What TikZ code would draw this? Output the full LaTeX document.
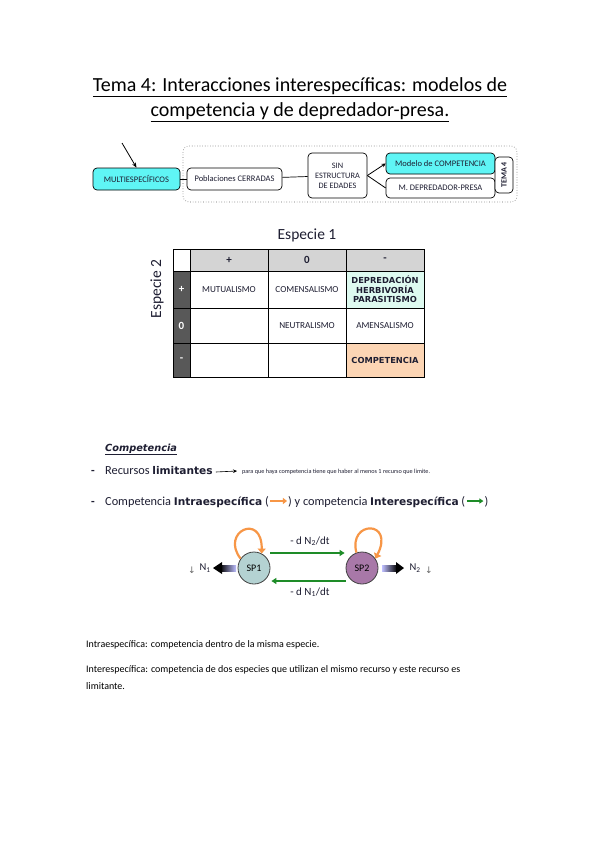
\documentclass[tikz,border=0pt]{standalone}
\usepackage{fontspec}
\setmainfont{Carlito}
\newfontfamily\dvfont{DejaVu Sans}
\usetikzlibrary{arrows.meta,calc}
\definecolor{cyanbox}{RGB}{95,245,245}
\definecolor{hdrgray}{RGB}{212,212,212}
\definecolor{darkcol}{RGB}{88,88,88}
\definecolor{mint}{RGB}{222,250,240}
\definecolor{peach}{RGB}{252,213,180}
\definecolor{spone}{RGB}{180,210,210}
\definecolor{sptwo}{RGB}{168,120,168}
\definecolor{loopor}{RGB}{247,150,70}
\definecolor{grn}{RGB}{30,140,40}
\definecolor{txtdark}{RGB}{30,30,50}
\begin{document}
\begin{tikzpicture}[x=1pt,y=-1pt,
  fbox/.style={draw, rounded corners=4pt, line width=0.7pt, inner sep=1pt, align=center,
    font=\fontsize{8.5}{9.5}\selectfont, text=txtdark},
  cell/.style={draw, line width=0.6pt, inner sep=0pt, align=center, font=\fontsize{9.2}{10}\selectfont, text=txtdark},
  boldcell/.style={cell, font=\dvfont\bfseries\fontsize{8.3}{9.6}\selectfont},
  hdr/.style={cell, fill=hdrgray, font=\bfseries\fontsize{11}{12}\selectfont},
  side/.style={cell, fill=darkcol, text=white, font=\bfseries\fontsize{11}{12}\selectfont},
  txt/.style={inner sep=0pt, anchor=base west, text=txtdark},
  rtxt/.style={txt, font=\fontsize{12.3}{14}\selectfont},
  bodytxt/.style={inner sep=0pt, anchor=base west, font=\fontsize{10}{12}\selectfont},
  grarrow/.style={draw=grn, line width=1.4pt, -{Triangle[length=5pt,width=6pt]}},
  orloop/.style={draw=loopor, line width=2.2pt, -{Triangle[length=5pt,width=8pt]}},
  circ/.style={circle, draw=black!75, line width=0.8pt, minimum size=32pt, inner sep=0pt, font=\fontsize{10}{11}\selectfont}
]
\useasboundingbox (0,0) rectangle (599,848);
\fill[white] (0,0) rectangle (599,848);

% title
\node[align=center, font=\fontsize{20}{25}\selectfont, text=black] (title) at (300,100)
  {\underline{Tema 4: Interacciones interespecíficas: modelos de}\\ \underline{competencia y de depredador-presa.}};

% flowchart
\draw[dotted, line width=0.6pt, draw=black!60, rounded corners=6pt] (183,146) rectangle (517,202);
\node[fbox, fill=cyanbox, minimum width=87pt, minimum height=22pt] (multi) at (136.5,179) {MULTIESPECÍFICOS};
\node[fbox, fill=white, minimum width=95pt, minimum height=22pt] (pob) at (234.5,179) {Poblaciones CERRADAS};
\node[fbox, fill=white, minimum width=59pt, minimum height=45pt, font=\fontsize{8.3}{10}\selectfont] (sin) at (337.5,175.5) {SIN\\ESTRUCTURA\\DE EDADES};
\node[fbox, fill=cyanbox, minimum width=109pt, minimum height=21pt] (comp) at (440.5,163.5) {Modelo de COMPETENCIA};
\node[fbox, fill=white, minimum width=109pt, minimum height=20pt] (dep) at (440.5,188) {M. DEPREDADOR-PRESA};
\node[fbox, fill=white, rotate=90, minimum width=36pt, minimum height=18pt, font=\bfseries\fontsize{8}{9}\selectfont] (tema) at (504,175) {TEMA 4};
\coordinate (ptr) at (122,143);
\draw[line width=0.8pt, -{Stealth[length=5pt,width=4pt]}] (ptr) -- (multi.north);
\draw[line width=0.7pt] (multi) -- (pob);
\draw[line width=0.7pt] (pob) -- (sin);
\draw[line width=0.8pt, -{Stealth[length=4pt,width=4pt]}] (sin.east) -- (comp.west);
\draw[line width=0.8pt] (sin.east) -- (dep.west);

% table
\node[font=\fontsize{15.5}{17}\selectfont, text=txtdark] (esp1) at (307,235) {Especie 1};
\node[rotate=90, font=\fontsize{15.5}{17}\selectfont, text=txtdark] (esp2) at (157,289) {Especie 2};
\node[cell, fill=white, minimum width=17pt, minimum height=22pt] (c00) at (181.5,260) {};
\node[hdr, minimum width=78pt, minimum height=22pt] (c01) at (229,260) {+};
\node[hdr, minimum width=78pt, minimum height=22pt] (c02) at (307,260) {0};
\node[hdr, minimum width=78pt, minimum height=22pt] (c03) at (385,260) {-};
\node[side, minimum width=17pt, minimum height=37pt] (c10) at (181.5,289.5) {+};
\node[cell, minimum width=78pt, minimum height=37pt] (c11) at (229,289.5) {MUTUALISMO};
\node[cell, minimum width=78pt, minimum height=37pt] (c12) at (307,289.5) {COMENSALISMO};
\node[boldcell, fill=mint, minimum width=78pt, minimum height=37pt] (c13) at (385,289.5) {DEPREDACIÓN\\HERBIVORÍA\\PARASITISMO};
\node[side, minimum width=17pt, minimum height=35pt] (c20) at (181.5,325.5) {0};
\node[cell, minimum width=78pt, minimum height=35pt] (c21) at (229,325.5) {};
\node[cell, minimum width=78pt, minimum height=35pt] (c22) at (307,325.5) {NEUTRALISMO};
\node[cell, minimum width=78pt, minimum height=35pt] (c23) at (385,325.5) {AMENSALISMO};
\node[side, minimum width=17pt, minimum height=34pt] (c30) at (181.5,360) {-};
\node[cell, minimum width=78pt, minimum height=34pt] (c31) at (229,360) {};
\node[cell, minimum width=78pt, minimum height=34pt] (c32) at (307,360) {};
\node[boldcell, fill=peach, minimum width=78pt, minimum height=34pt] (c33) at (385,360) {COMPETENCIA};

% Competencia section
\node[txt, font=\dvfont\bfseries\itshape\fontsize{9.8}{11}\selectfont] (head) at (105,451) {\underline{Competencia}};
\node[txt, font=\bfseries\fontsize{12}{12}\selectfont] (b1) at (91,474) {-};
\node[rtxt] (l1a) at (105,474) {Recursos {\dvfont\bfseries\fontsize{10.6}{12}\selectfont limitantes}};
\node[txt, font=\fontsize{6.2}{7}\selectfont] (l1b) at (242,473) {para que haya competencia tiene que haber al menos 1 recurso que limite.};
\draw[line width=0.6pt, -{Stealth[length=4pt,width=3.5pt]}] ([xshift=3pt,yshift=2pt]l1a.base east) -- ([xshift=-5pt,yshift=2pt]l1b.base west);
\node[txt, font=\bfseries\fontsize{12}{12}\selectfont] (b2) at (91,505) {-};
\node[rtxt] (l2a) at (105,505) {Competencia {\dvfont\bfseries\fontsize{10.6}{12}\selectfont Intraespecífica} (};
\node[rtxt, anchor=base west] (l2b) at ([xshift=19pt]l2a.base east) {) y competencia {\dvfont\bfseries\fontsize{10.6}{12}\selectfont Interespecífica} (};
\node[rtxt, anchor=base west] (l2c) at ([xshift=19pt]l2b.base east) {)};
\draw[draw=loopor, line width=2pt, -{Triangle[length=4pt,width=6pt]}] ([xshift=1.5pt,yshift=4pt]l2a.base east) -- ([xshift=-1pt,yshift=4pt]l2b.base west);
\draw[draw=grn, line width=1.2pt, -{Triangle[length=4pt,width=5pt]}] ([xshift=1.5pt,yshift=4pt]l2b.base east) -- ([xshift=-1pt,yshift=4pt]l2c.base west);

% SP diagram
\node[circ, fill=spone] (sp1) at (254,568) {SP1};
\node[circ, fill=sptwo] (sp2) at (362,568) {SP2};
\draw[grarrow] ($(sp1.east)+(0,-15)$) -- ($(sp2.west)+(-1,-15)$);
\draw[grarrow] ($(sp2.west)+(0,13)$) -- ($(sp1.east)+(1,13)$);
\node[font=\fontsize{11}{12}\selectfont, text=txtdark] (lab1) at (310,541) {- d N\textsubscript{2}/dt};
\node[font=\fontsize{11}{12}\selectfont, text=txtdark] (lab2) at (310,592) {- d N\textsubscript{1}/dt};
\draw[orloop] (sp1.145) .. controls (220,532) and (262,512) .. (sp1.62);
\draw[orloop] (sp2.110) .. controls (348,520) and (395,520) .. (sp2.35);
% output arrows
\shade[left color=black, right color=blue!25] (220,565) rectangle (236,571);
\fill[black] (222,562) -- (213,568) -- (222,574) -- cycle;
\node[font=\fontsize{10.5}{11}\selectfont, text=txtdark] (n1) at (205,568) {N\textsubscript{1}};
\node[font=\dvfont\fontsize{9}{9}\selectfont, text=black!60] (d1) at (192,570) {↓};
\shade[left color=blue!25, right color=black] (382,565) rectangle (397,571);
\fill[black] (396,562) -- (404,568) -- (396,574) -- cycle;
\node[font=\fontsize{10.5}{11}\selectfont, text=txtdark] (n2) at (415,568) {N\textsubscript{2}};
\node[font=\dvfont\fontsize{9}{9}\selectfont, text=black!60] (d2) at (429,570) {↓};

% bottom text
\node[bodytxt] (t1) at (86,647) {Intraespecífica: competencia dentro de la misma especie.};
\node[bodytxt] (t2) at (86,672) {Interespecífica: competencia de dos especies que utilizan el mismo recurso y este recurso es};
\node[bodytxt] (t3) at (86,689) {limitante.};
\end{tikzpicture}
\end{document}
